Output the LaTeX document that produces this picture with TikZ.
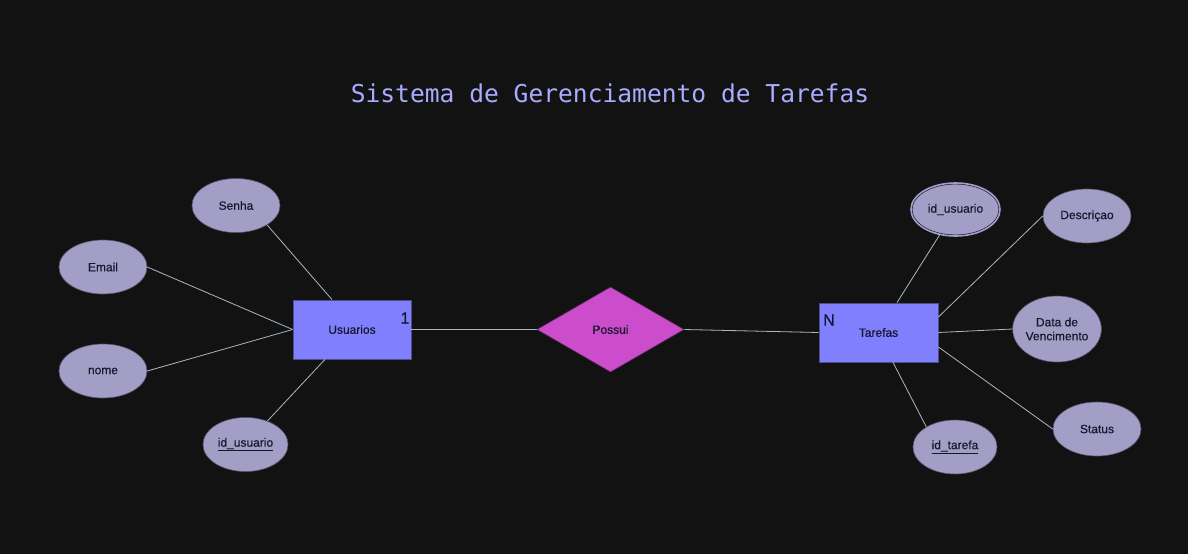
\documentclass[tikz,border=0pt]{standalone}
\usepackage{fontspec}
\setmainfont{Liberation Sans}
\newfontfamily\lblfont{Liberation Sans}[FakeBold=0.35]
\newfontfamily\titlefont{DejaVu Sans Mono}
\usetikzlibrary{shapes.geometric}
\definecolor{bgc}{HTML}{121212}
\definecolor{rectc}{HTML}{8080FF}
\definecolor{rectb}{HTML}{4E4E8A}
\definecolor{ellc}{HTML}{A39EC6}
\definecolor{ellb}{HTML}{5A5670}
\definecolor{diac}{HTML}{CC4DCC}
\definecolor{diab}{HTML}{6A2A6A}
\definecolor{linec}{HTML}{A8B8C4}
\definecolor{txtc}{HTML}{16162A}
\definecolor{titlec}{HTML}{AAAAFF}
\tikzset{
  entity/.style={rectangle, fill=rectc, draw=rectb, line width=0.8pt, inner sep=0pt, text=txtc, font=\lblfont\fontsize{12}{14}\selectfont},
  attr/.style={ellipse, fill=ellc, draw=ellb, line width=0.6pt, inner sep=0pt, minimum width=88pt, minimum height=54pt, text=txtc, font=\lblfont\fontsize{12}{14}\selectfont, align=center},
  mvattr/.style={attr, draw=txtc, double=ellc, double distance=1.6pt, line width=0.6pt},
  rel/.style={diamond, fill=diac, draw=diab, line width=0.6pt, inner sep=0pt, aspect=1.73, minimum width=147pt, minimum height=85pt, text=txtc, font=\lblfont\fontsize{12}{14}\selectfont},
  conn/.style={draw=linec, line width=0.8pt},
  card/.style={text=txtc, font=\lblfont\fontsize{16}{18}\selectfont, inner sep=0pt}
}
\begin{document}
\begin{tikzpicture}[x=1pt,y=-1pt]
\fill[bgc] (0,0) rectangle (1188,554);
\useasboundingbox (0,0) rectangle (1188,554);

\node[text=titlec, font=\titlefont\fontsize{24.6}{28}\selectfont] (title) at (610,93) {Sistema de Gerenciamento de Tarefas};

% entities
\node[entity, minimum width=118pt, minimum height=59pt] (usu) at (352,329.5) {Usuarios};
\node[card] (c1) at (405,318) {1};
\node[entity, minimum width=119pt, minimum height=59pt] (tar) at (878.5,332.5) {Tarefas};
\node[card] (cn) at (829,320) {N};

% relationship
\node[rel] (pos) at (610.5,329.5) {Possui};

% attributes left
\node[attr] (senha) at (236,205.5) {Senha};
\node[attr] (email) at (103,267) {Email};
\node[attr] (nome) at (103,371) {nome};
\node[attr, minimum width=85pt] (idu) at (245.5,444.5) {\underline{id\_usuario}};

% attributes right
\node[mvattr, minimum width=89pt, minimum height=53pt] (idu2) at (955.5,209.5) {id\_usuario};
\node[attr] (desc) at (1087,216) {Descriçao};
\node[attr, minimum height=66pt] (data) at (1057,329) {Data de\\Vencimento};
\node[attr] (status) at (1097,429) {Status};
\node[attr, minimum width=84pt] (idt) at (955,447) {\underline{id\_tarefa}};

% anchor points on entity borders (shifts are in canvas units: positive y is up)
\coordinate (uS) at ([xshift=-20pt]usu.north);
\coordinate (uI) at ([xshift=-27pt]usu.south);
\coordinate (tI) at ([xshift=18.5pt]tar.north);
\coordinate (tD) at ([yshift=15.5pt]tar.east);
\coordinate (tS) at ([yshift=-14.5pt]tar.east);
\coordinate (tT) at ([xshift=14.5pt]tar.south);

% connectors
\draw[conn] (usu.east) -- (pos.west);
\draw[conn] (pos.east) -- (tar.west);
\draw[conn] (senha.-32) -- (uS);
\draw[conn] (email.east) -- (usu.west);
\draw[conn] (nome.east) -- (usu.west);
\draw[conn] (idu.47) -- (uI);
\draw[conn] (idu2.-122) -- (tI);
\draw[conn] (desc.west) -- (tD);
\draw[conn] (data.west) -- (tar.east);
\draw[conn] (status.west) -- (tS);
\draw[conn] (idt.145) -- (tT);
\end{tikzpicture}
\end{document}
